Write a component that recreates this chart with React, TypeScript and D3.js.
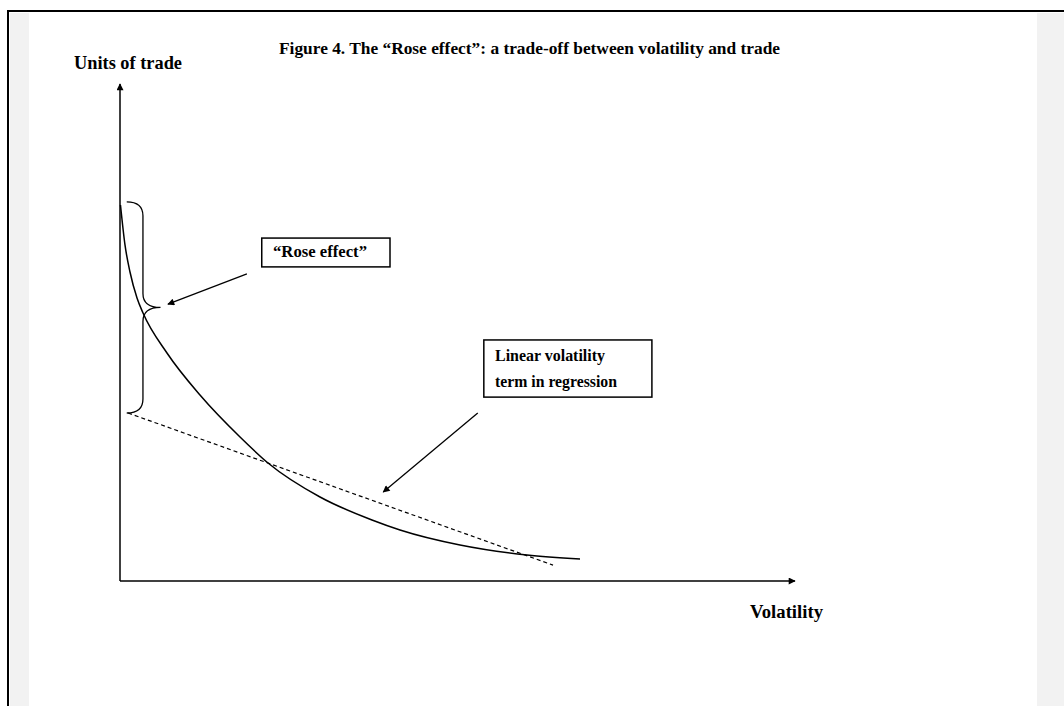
import React from 'react'
import * as d3 from 'd3'

// curve: units of trade vs volatility
const volatility = [0.007, 0.074, 0.148, 0.252, 0.341, 0.696, 1.185, 1.778, 2.193, 2.963, 3.733, 4.148, 5.037, 6.03, 6.815]
const units = [7.565, 6.761, 6.217, 5.694, 5.392, 4.588, 3.742, 2.897, 2.374, 1.69, 1.227, 1.026, 0.724, 0.523, 0.443]

// linear volatility term (dashed)
const linearVolatility = [0.12, 6.415]
const linearUnits = [3.38, 0.32]

// brace marking the "Rose effect" gap
const braceUnits = [7.63, 3.38]

const W = 1064
const H = 706
const FONT = '"Times New Roman", "Liberation Serif", serif'

const App = () => {
  const xScale = d3.scaleLinear().domain([0, 10]).range([120, 795])
  const yScale = d3.scaleLinear().domain([0, 10]).range([581, 84])

  const curvePts: [number, number][] = volatility.map((v, i) => [v, units[i]])
  const linePts: [number, number][] = linearVolatility.map((v, i) => [v, linearUnits[i]])

  const curveLine = d3
    .line<[number, number]>()
    .x((d) => xScale(d[0]))
    .y((d) => yScale(d[1]))
    .curve(d3.curveMonotoneX)

  const straight = d3
    .line<[number, number]>()
    .x((d) => xScale(d[0]))
    .y((d) => yScale(d[1]))

  // brace path
  const x0 = xScale(0.1)
  const xm = xScale(0.34)
  const xp = xScale(0.6)
  const yTop = yScale(braceUnits[0])
  const yBot = yScale(braceUnits[1])
  const yMid = (yTop + yBot) / 2
  const r = 14
  const brace = [
    `M${x0},${yTop}`,
    `Q${xm},${yTop} ${xm},${yTop + r}`,
    `L${xm},${yMid - r}`,
    `Q${xm},${yMid} ${xp},${yMid}`,
    `Q${xm},${yMid} ${xm},${yMid + r}`,
    `L${xm},${yBot - r}`,
    `Q${xm},${yBot} ${x0},${yBot}`,
  ].join(' ')

  // annotation boxes (data units)
  const roseBox = { x0: 2.1, x1: 4.0, y0: 6.9, y1: 6.32 }
  const linBox = { x0: 5.39, x1: 7.88, y0: 4.85, y1: 3.7 }

  return (
    <svg
      width={W}
      height={H}
      style={{ position: 'fixed', left: 0, top: 0, background: '#fff' }}
      fontFamily={FONT}
    >
      <defs>
        <marker id="ah" viewBox="0 0 10 10" refX="9" refY="5" markerWidth="11" markerHeight="7" markerUnits="userSpaceOnUse" orient="auto">
          <path d="M0,0 L10,5 L0,10 z" fill="#000" />
        </marker>
      </defs>

      {/* page frame */}
      <rect x={10} y={13} width={19} height={H} fill="#f2f2f2" />
      <rect x={1037} y={13} width={W - 1037} height={H} fill="#f2f2f2" />
      <line x1={8} y1={11} x2={W} y2={11} stroke="#000" strokeWidth={2} />
      <line x1={8} y1={10} x2={8} y2={H} stroke="#000" strokeWidth={2} />

      <text x={279} y={54} fontSize={16} fontWeight="bold" textLength={501} lengthAdjust="spacingAndGlyphs">
        Figure 4. The “Rose effect”: a trade-off between volatility and trade
      </text>

      {/* axes */}
      <line x1={xScale(0)} y1={yScale(0)} x2={xScale(0)} y2={yScale(10)} stroke="#000" strokeWidth={1.5} markerEnd="url(#ah)" />
      <line x1={xScale(0)} y1={yScale(0)} x2={xScale(10)} y2={yScale(0)} stroke="#000" strokeWidth={1.5} markerEnd="url(#ah)" />

      <text x={74} y={69} fontSize={18} fontWeight="bold" textLength={108} lengthAdjust="spacingAndGlyphs">
        Units of trade
      </text>
      <text x={750} y={618} fontSize={18} fontWeight="bold" textLength={73} lengthAdjust="spacingAndGlyphs">
        Volatility
      </text>

      {/* curve and linear term */}
      <path d={curveLine(curvePts) || ''} fill="none" stroke="#000" strokeWidth={1.5} />
      <path d={straight(linePts) || ''} fill="none" stroke="#000" strokeWidth={1.2} strokeDasharray="4,3" />

      <path d={brace} fill="none" stroke="#000" strokeWidth={1.3} />

      {/* Rose effect label */}
      <rect
        x={xScale(roseBox.x0)}
        y={yScale(roseBox.y0)}
        width={xScale(roseBox.x1) - xScale(roseBox.x0)}
        height={yScale(roseBox.y1) - yScale(roseBox.y0)}
        fill="#fff"
        stroke="#000"
        strokeWidth={1.5}
      />
      <text x={273} y={257} fontSize={16} fontWeight="bold" textLength={94} lengthAdjust="spacingAndGlyphs">
        “Rose effect”
      </text>
      <line x1={xScale(1.88)} y1={yScale(6.18)} x2={xScale(0.71)} y2={yScale(5.57)} stroke="#000" strokeWidth={1.3} markerEnd="url(#ah)" />

      {/* linear term label */}
      <rect
        x={xScale(linBox.x0)}
        y={yScale(linBox.y0)}
        width={xScale(linBox.x1) - xScale(linBox.x0)}
        height={yScale(linBox.y1) - yScale(linBox.y0)}
        fill="#fff"
        stroke="#000"
        strokeWidth={1.5}
      />
      <text x={495} y={361} fontSize={16} fontWeight="bold" textLength={110} lengthAdjust="spacingAndGlyphs">
        Linear volatility
      </text>
      <text x={495} y={387} fontSize={16} fontWeight="bold" textLength={122} lengthAdjust="spacingAndGlyphs">
        term in regression
      </text>
      <line x1={xScale(5.3)} y1={yScale(3.38)} x2={xScale(3.9)} y2={yScale(1.79)} stroke="#000" strokeWidth={1.3} markerEnd="url(#ah)" />
    </svg>
  )
}

export default App
